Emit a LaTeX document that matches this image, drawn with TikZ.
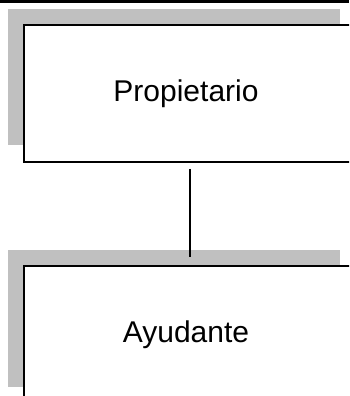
\documentclass[tikz,border=0pt]{standalone}
\usepackage{fontspec}
\setmainfont{Liberation Sans}
\definecolor{boxshadow}{RGB}{192,192,192}
\tikzset{box/.style={draw, line width=1.5pt, fill=white, minimum width=330pt, minimum height=137pt, inner sep=0pt, font=\fontsize{30}{36}\selectfont}}

\begin{document}
\begin{tikzpicture}[x=1pt, y=-1pt]
\useasboundingbox (0,0) rectangle (349,396);
\clip (0,0) rectangle (349,396);

\fill (0,0) rectangle (349,3);

\begin{scope}
  \fill[boxshadow] (8,9) rectangle (340,145);
  \node[box] (prop) at (189,93.5) {\hspace*{-6pt}Propietario};
\end{scope}

\begin{scope}
  \fill[boxshadow] (8,250) rectangle (340,387);
  \node[box] (ayu) at (189,334.5) {\hspace*{-6pt}Ayudante};
\end{scope}

\draw[line width=1.5pt] ([xshift=1pt,yshift=-6pt]prop.south) -- ([xshift=1pt,yshift=8pt]ayu.north);

\end{tikzpicture}
\end{document}
